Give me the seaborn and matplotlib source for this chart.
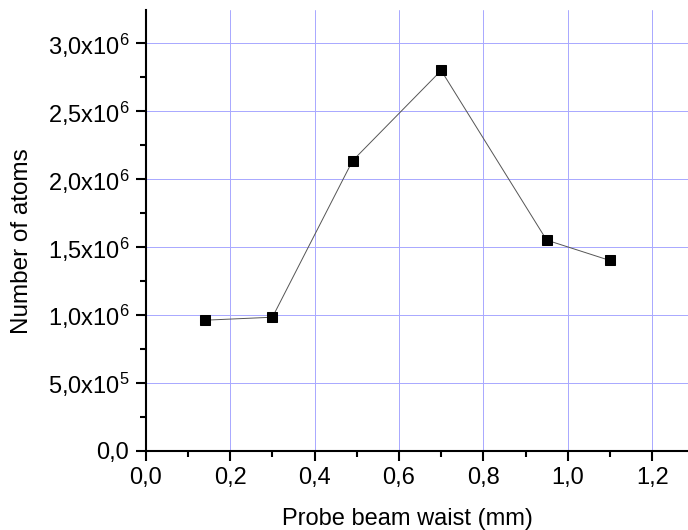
import pandas as pd
import matplotlib
matplotlib.use("Agg")
import matplotlib.pyplot as plt
from matplotlib.ticker import MultipleLocator, FuncFormatter
import seaborn as sns

# data
waist_mm = [0.14, 0.30, 0.49, 0.70, 0.95, 1.10]
n_atoms = [0.96e6, 0.982e6, 2.135e6, 2.80e6, 1.55e6, 1.40e6]

y_tick_labels = {
    0: "0,0",
    5e5: r"5,0x10$^{5}$",
    1e6: r"1,0x10$^{6}$",
    1.5e6: r"1,5x10$^{6}$",
    2e6: r"2,0x10$^{6}$",
    2.5e6: r"2,5x10$^{6}$",
    3e6: r"3,0x10$^{6}$",
}

sns.set_style("ticks")
plt.rcParams["font.family"] = ["Liberation Sans", "DejaVu Sans"]
plt.rcParams["mathtext.fontset"] = "custom"
plt.rcParams["mathtext.rm"] = "Liberation Sans"
plt.rcParams["mathtext.it"] = "Liberation Sans"
# black text and axes, like the original
for key in ["text.color", "axes.labelcolor", "xtick.color", "ytick.color", "axes.edgecolor"]:
    plt.rcParams[key] = "black"

df = pd.DataFrame({"waist": waist_mm, "atoms": n_atoms})

fig = plt.figure(figsize=(6.88, 5.30), dpi=100)
ax = fig.add_axes([0.212, 0.150, 0.788, 0.831])

sns.lineplot(data=df, x="waist", y="atoms", ax=ax, color="#555555",
             linewidth=0.7, marker="s", markersize=7.5,
             markerfacecolor="black", markeredgecolor="black", zorder=3)

ax.set_xlim(0, 1.285)
ax.set_ylim(0, 3.245e6)

ax.xaxis.set_major_locator(MultipleLocator(0.2))
ax.xaxis.set_minor_locator(MultipleLocator(0.1))
ax.yaxis.set_major_locator(MultipleLocator(5e5))
ax.yaxis.set_minor_locator(MultipleLocator(2.5e5))

ax.xaxis.set_major_formatter(FuncFormatter(lambda v, p: f"{v:.1f}".replace(".", ",")))
ax.yaxis.set_major_formatter(FuncFormatter(lambda v, p: y_tick_labels.get(round(v), "")))

ax.grid(True, which="major", color="#a8a8ff", linewidth=0.7)
ax.set_axisbelow(True)

sns.despine(ax=ax)
for side in ["left", "bottom"]:
    ax.spines[side].set_linewidth(1.5)

ax.tick_params(which="major", length=7, width=1.5, labelsize=17, pad=5)
ax.tick_params(which="minor", length=4, width=1.5)

ax.set_xlabel("Probe beam waist (mm)", fontsize=17, va="center")
ax.set_ylabel("Number of atoms", fontsize=17.5, va="center")
ax.xaxis.set_label_coords(0.483, -0.155)
ax.yaxis.set_label_coords(-0.229, 0.475)

fig.savefig("out.png", dpi=100)
